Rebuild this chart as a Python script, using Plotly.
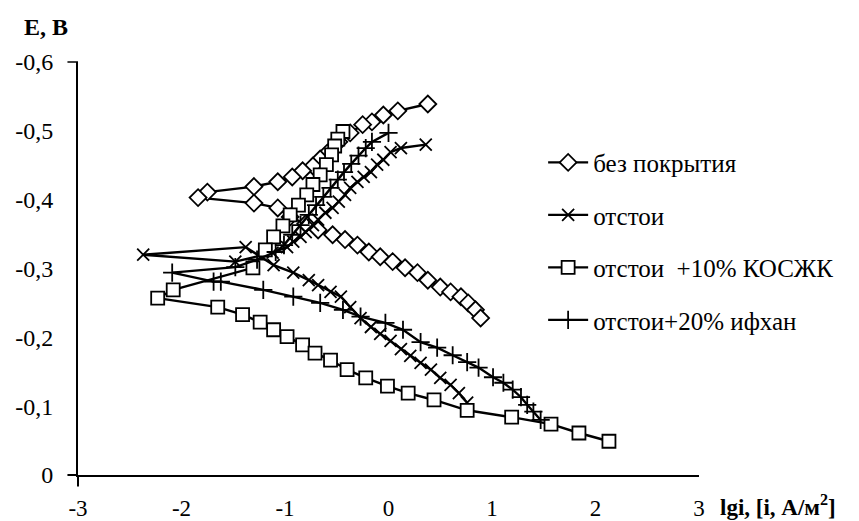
import plotly.graph_objects as go

# Polarization curves: lg(i) vs electrode potential E
names = ["без покрытия", "отстои", "отстои\u00a0 +10% КОСЖК", "отстои+20% ифхан"]

lgi_bez = [0.38, 0.09, -0.05, -0.16, -0.25, -0.37, -0.48, -0.59, -0.66, -0.73,
           -0.83, -0.93, -1.07, -1.30, -1.75, -1.84, -1.30, -1.07, -0.95, -0.80,
           -0.68, -0.54, -0.42, -0.30, -0.19, -0.08, 0.04, 0.16, 0.28, 0.38,
           0.50, 0.60, 0.70, 0.77, 0.84, 0.89]
E_bez = [-0.539, -0.529, -0.523, -0.513, -0.509, -0.497, -0.484, -0.468, -0.459, -0.449,
         -0.442, -0.433, -0.426, -0.419, -0.411, -0.403, -0.395, -0.388, -0.375, -0.365,
         -0.356, -0.349, -0.342, -0.334, -0.324, -0.317, -0.310, -0.301, -0.294, -0.283,
         -0.273, -0.266, -0.259, -0.250, -0.240, -0.228]

lgi_ots = [0.36, 0.12, 0.02, -0.05, -0.11, -0.17, -0.24, -0.30, -0.37, -0.42,
           -0.48, -0.54, -0.61, -0.68, -0.73, -0.80, -0.85, -0.92, -0.98, -1.12,
           -1.48, -2.37, -1.38, -1.11, -0.92, -0.77, -0.68, -0.56, -0.46, -0.37,
           -0.27, -0.17, -0.08, 0.02, 0.12, 0.21, 0.31, 0.41, 0.50, 0.60,
           0.68, 0.76]
E_ots = [-0.480, -0.475, -0.469, -0.458, -0.451, -0.440, -0.433, -0.426, -0.417, -0.407,
         -0.397, -0.388, -0.381, -0.371, -0.363, -0.353, -0.346, -0.339, -0.331, -0.323,
         -0.310, -0.320, -0.331, -0.305, -0.294, -0.283, -0.276, -0.266, -0.259, -0.244,
         -0.228, -0.215, -0.205, -0.195, -0.183, -0.173, -0.163, -0.153, -0.141, -0.131,
         -0.119, -0.105]

lgi_kos = [-0.44, -0.49, -0.52, -0.55, -0.60, -0.66, -0.73, -0.79, -0.87, -0.95,
           -1.02, -1.11, -1.19, -1.31, -2.08, -2.23, -1.65, -1.41, -1.24, -1.11,
           -0.98, -0.83, -0.71, -0.56, -0.40, -0.22, -0.01, 0.19, 0.44, 0.76,
           1.19, 1.57, 1.84, 2.13]
E_kos = [-0.499, -0.488, -0.478, -0.465, -0.451, -0.436, -0.422, -0.407, -0.392, -0.378,
         -0.362, -0.346, -0.327, -0.301, -0.269, -0.257, -0.244, -0.233, -0.222, -0.211,
         -0.201, -0.189, -0.177, -0.167, -0.153, -0.141, -0.129, -0.119, -0.109, -0.094,
         -0.084, -0.074, -0.061, -0.049]

lgi_ifx = [0.00, -0.16, -0.22, -0.29, -0.36, -0.43, -0.49, -0.56, -0.63, -0.70,
           -0.77, -0.85, -0.93, -1.01, -1.09, -1.27, -1.48, -2.09, -1.69, -1.62,
           -1.21, -0.92, -0.66, -0.44, -0.27, -0.03, 0.14, 0.31, 0.47, 0.62,
           0.76, 0.87, 1.01, 1.11, 1.20, 1.28, 1.34, 1.40, 1.47]
E_ifx = [-0.497, -0.484, -0.475, -0.464, -0.452, -0.440, -0.429, -0.417, -0.404, -0.392,
         -0.378, -0.363, -0.349, -0.334, -0.324, -0.313, -0.302, -0.294, -0.281, -0.281,
         -0.269, -0.259, -0.250, -0.240, -0.230, -0.221, -0.211, -0.193, -0.185, -0.174,
         -0.164, -0.156, -0.142, -0.134, -0.124, -0.113, -0.102, -0.092, -0.080]

x_ticks = [-3, -2, -1, 0, 1, 2, 3]
x_ticktext = ["-3", "-2", "-1", "0", "1", "2", "3"]
y_ticks = [-0.6, -0.5, -0.4, -0.3, -0.2, -0.1, 0]
y_ticktext = ["-0,6", "-0,5", "-0,4", "-0,3", "-0,2", "-0,1", "0"]

FONT = "Liberation Serif, Times New Roman, serif"

series = [
    (lgi_bez, E_bez, names[0], dict(symbol="diamond", size=13, color="white",
                                     line=dict(color="black", width=1.8))),
    (lgi_ots, E_ots, names[1], dict(symbol="x-thin-open", size=12, color="black",
                                     line=dict(color="black", width=1.8))),
    (lgi_kos, E_kos, names[2], dict(symbol="square", size=13, color="white",
                                     line=dict(color="black", width=1.8))),
    (lgi_ifx, E_ifx, names[3], dict(symbol="cross-thin-open", size=13, color="black",
                                     line=dict(color="black", width=1.8))),
]

fig = go.Figure()
for i, (xs, ys, nm, mk) in enumerate(series):
    fig.add_trace(go.Scatter(
        x=xs, y=ys, name=nm, mode="lines+markers",
        line=dict(color="black", width=2.4),
        marker=mk, legendgroup=f"g{i}",
    ))

fig.update_layout(
    width=859, height=521,
    margin=dict(l=78, r=160, t=62, b=46, autoexpand=False),
    paper_bgcolor="white", plot_bgcolor="white",
    font=dict(family=FONT, size=23, color="black"),
    showlegend=True,
    legend=dict(x=0.749, y=0.812, xanchor="left", yanchor="top",
                bgcolor="rgba(0,0,0,0)", font=dict(family=FONT, size=25),
                itemwidth=40, tracegroupgap=17),
    xaxis=dict(range=[-3, 3], tickvals=x_ticks, ticktext=x_ticktext,
               showgrid=False, zeroline=False, showline=True, automargin=False,
               linecolor="black", linewidth=2, ticks="", ticklabelstandoff=11,
               tickfont=dict(family=FONT, size=23)),
    yaxis=dict(range=[0, -0.6], tickvals=y_ticks, ticktext=y_ticktext,
               showgrid=False, zeroline=False, showline=True, automargin=False,
               linecolor="black", linewidth=2, ticks="", ticklabelstandoff=18,
               tickfont=dict(family=FONT, size=24)),
    annotations=[
        dict(text="<b>E, В</b>", xref="paper", yref="paper",
             x=-0.09, y=1.0, yshift=35, xanchor="left", yanchor="middle",
             showarrow=False, font=dict(family=FONT, size=24)),
        dict(text="<b>lgi, [i, А/м<sup>2</sup>]</b>", xref="paper", yref="paper",
             x=1.0, y=0, xshift=19, yshift=-30, xanchor="left", yanchor="middle",
             showarrow=False, font=dict(family=FONT, size=23)),
    ],
    shapes=[
        dict(type="line", xref="paper", yref="paper", x0=-0.017, x1=0, y0=1, y1=1,
             line=dict(color="black", width=1.5)),
        dict(type="line", xref="paper", yref="paper", x0=-0.017, x1=0, y0=0, y1=0,
             line=dict(color="black", width=2)),
        dict(type="line", xref="paper", yref="paper", x0=0, x1=0, y0=0, y1=-0.028,
             line=dict(color="black", width=2)),
    ],
)

fig.write_html("out.html")
